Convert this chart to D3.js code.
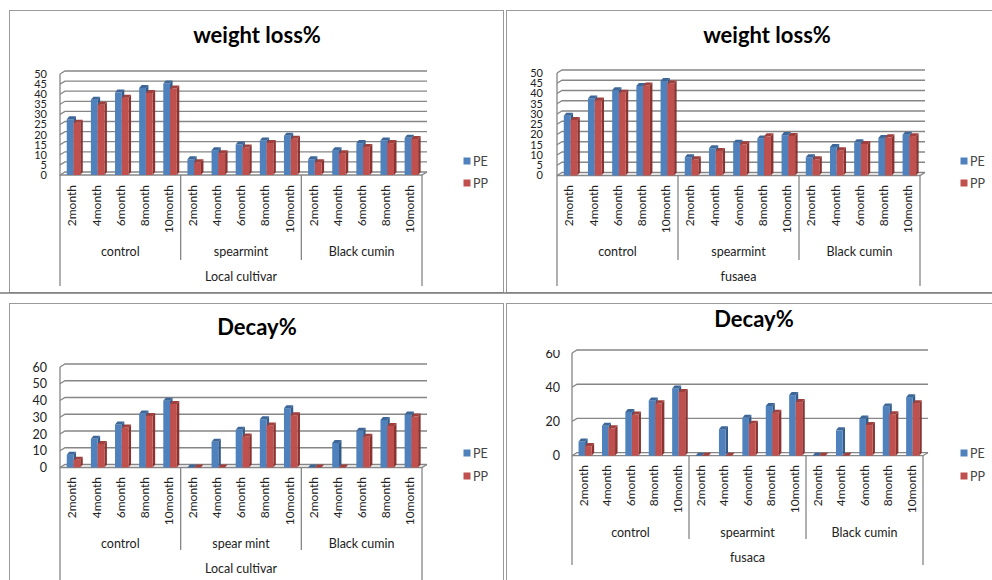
<!DOCTYPE html>
<html>
<head>
<meta charset="utf-8">
<script src="https://cdn.jsdelivr.net/npm/d3@7"></script>
<style>
  body { margin: 0; background: #fff; }
  svg { display: block; }
  text { font-family: Lato, "Open Sans", "DejaVu Sans", sans-serif; }
</style>
</head>
<body>
<svg id="chart" width="992" height="580"></svg>
<script>
// Storage months and treatments (category axis, two levels + cultivar level)
const months = ["2month", "4month", "6month", "8month", "10month"];
const treatments = ["control", "spearmint", "Black cumin"];
const treatmentsDecayLocal = ["control", "spear mint", "Black cumin"];
const cultivarLocal = "Local cultivar";
const cultivarFusaea = "fusaea";
const cultivarFusaca = "fusaca";
const seriesNames = ["PE", "PP"];

// Weight loss % — Local cultivar
const wlLocalPE = [27.6, 37.3, 40.8, 43.1, 45.3, 7.8, 12.3, 15.1, 17.1, 19.4, 7.8, 12.3, 15.8, 17.1, 18.4];
const wlLocalPP = [25.9, 34.8, 38.3, 40.6, 42.8, 6.3, 10.8, 13.6, 15.9, 17.9, 6.3, 10.8, 13.8, 15.8, 17.8];
// Weight loss % — fusaea
const wlFusaeaPE = [29.2, 37.6, 41.6, 43.7, 46.1, 8.9, 13.3, 16.0, 18.1, 19.7, 8.9, 13.9, 16.2, 18.3, 19.9];
const wlFusaeaPP = [27.1, 36.6, 40.4, 43.9, 44.9, 7.9, 11.9, 15.2, 19.1, 19.3, 7.9, 12.3, 15.4, 18.6, 19.2];
// Decay % — Local cultivar
const decayLocalPE = [7.6, 17.1, 25.7, 32.2, 39.9, 0, 15.3, 22.5, 28.8, 35.4, 0, 14.7, 21.9, 28.4, 31.6];
const decayLocalPP = [4.6, 14.1, 23.9, 30.8, 37.9, 0, 0, 18.5, 25.1, 31.2, 0, 0, 18.3, 24.8, 30.4];
// Decay % — fusaca
const decayFusacaPE = [8.3, 17.5, 25.6, 32.3, 39.3, 0, 15.5, 22.2, 29.1, 35.4, 0, 14.8, 21.8, 28.8, 34.2];
const decayFusacaPP = [5.6, 16.0, 24.0, 30.6, 37.2, 0, 0, 18.7, 25.1, 31.3, 0, 0, 17.9, 24.2, 30.7];

// Axis tick settings
const wlTicks = { max: 50, step: 5 };
const decayLocalTicks = { max: 60, step: 10 };
const decayFusacaTicks = { max: 60, step: 20 };

const colors = {
  PE: { front: "#4F81BD", top: "#3C6798", side: "#345B88" },
  PP: { front: "#C0504D", top: "#A03F3C", side: "#8A3432" }
};

const svg = d3.select("#chart");

// Panel frames
const frames = svg.append("g").attr("fill", "none");
frames.append("rect").attr("x", 9.5).attr("y", 10.5).attr("width", 494).attr("height", 282).attr("stroke", "#9a9a9a");
frames.append("rect").attr("x", 506.5).attr("y", 10.5).attr("width", 500).attr("height", 282).attr("stroke", "#9a9a9a");
frames.append("rect").attr("x", 9.5).attr("y", 303.5).attr("width", 494).attr("height", 290).attr("stroke", "#9a9a9a");
frames.append("rect").attr("x", 506.5).attr("y", 303.5).attr("width", 500).attr("height", 290).attr("stroke", "#9a9a9a");
frames.append("line").attr("x1", 0).attr("x2", 992).attr("y1", 293).attr("y2", 293).attr("stroke", "#7a7a7a").attr("stroke-width", 1.5);

function drawPanel(o) {
  const g = svg.append("g");
  const keys = [];
  o.groups.forEach(gr => months.forEach(m => keys.push(gr + "|" + m)));

  const x = d3.scaleBand().domain(keys).range([o.x0, o.x1]);
  const bw = x.bandwidth();
  const xs = d3.scaleBand().domain(seriesNames).range([bw * 0.28, bw * 0.84]);
  const y = d3.scaleLinear().domain([0, o.ticks.max]).range([o.y0, o.yTop]);
  const fdx = 5, fdy = 3;      // floor / wall depth
  const bdx = 2.5, bdy = 3;    // column depth

  // Title
  g.append("text").attr("x", o.titleX).attr("y", o.titleY)
    .attr("text-anchor", "middle").attr("font-weight", 700).attr("font-size", 22)
    .attr("fill", "#000").text(o.title);

  // Wall gridlines and side wall
  const ticks = d3.range(0, o.ticks.max + o.ticks.step / 2, o.ticks.step);
  g.append("g").selectAll("path").data(ticks).join("path")
    .attr("d", t => `M${o.x0},${y(t)}L${o.x0 + fdx},${y(t) - fdy}L${o.x1 + fdx},${y(t) - fdy}`)
    .attr("fill", "none").attr("stroke", "#868686").attr("stroke-width", 1.3);
  g.append("path")
    .attr("d", `M${o.x0},${y(o.ticks.max)}L${o.x0},${o.y0}L${o.x1},${o.y0}L${o.x1 + fdx},${o.y0 - fdy}`)
    .attr("fill", "none").attr("stroke", "#868686").attr("stroke-width", 1.3);

  // Y tick labels
  const lab = g.append("g");
  if (o.clipTop != null) {
    const id = "clip" + Math.round(o.x0);
    svg.append("clipPath").attr("id", id).append("rect")
      .attr("x", o.labelRight - 40).attr("y", o.clipTop).attr("width", 50).attr("height", 300);
    lab.attr("clip-path", `url(#${id})`);
  }
  lab.selectAll("text").data(ticks).join("text")
    .attr("x", o.labelRight).attr("y", t => y(t))
    .attr("dy", "0.36em").attr("text-anchor", "end")
    .attr("font-size", o.tickFont).attr("fill", "#222").text(t => t);

  // Columns: PE first so the PP column covers its side face
  const bars = g.append("g");
  keys.forEach((k, i) => {
    seriesNames.forEach(s => {
      const v = (s === "PE" ? o.pe : o.pp)[i];
      const xf = x(k) + xs(s), w = xs.bandwidth();
      const yt = y(v), yb = y(0);
      const c = colors[s];
      bars.append("path")
        .attr("d", `M${xf + w},${yt}L${xf + w + bdx},${yt - bdy}L${xf + w + bdx},${yb - bdy}L${xf + w},${yb}Z`)
        .attr("fill", c.side);
      bars.append("rect").attr("x", xf).attr("y", yt).attr("width", w).attr("height", yb - yt)
        .attr("fill", c.front);
      bars.append("path")
        .attr("d", `M${xf},${yt}L${xf + w},${yt}L${xf + w + bdx},${yt - bdy}L${xf + bdx},${yt - bdy}Z`)
        .attr("fill", c.top);
    });
  });

  // Month labels (rotated)
  g.append("g").selectAll("text").data(keys).join("text")
    .attr("transform", k => `translate(${x(k) + bw / 2},${o.monthTop}) rotate(-90)`)
    .attr("dy", "0.36em").attr("text-anchor", "end")
    .attr("font-size", 12).attr("fill", "#222").text(k => k.split("|")[1]);

  // Group separators and labels
  const gw = bw * months.length;
  const sep = g.append("g").attr("stroke", "#868686").attr("stroke-width", 1.3);
  d3.range(o.groups.length + 1).forEach(j => {
    const sx = o.x0 + j * gw;
    const outer = j === 0 || j === o.groups.length;
    sep.append("line").attr("x1", sx).attr("x2", sx).attr("y1", o.y0)
      .attr("y2", outer ? o.outerBottom : o.innerBottom);
  });
  g.append("g").selectAll("text").data(o.groups).join("text")
    .attr("x", (d, j) => o.x0 + (j + 0.5) * gw).attr("y", o.groupY)
    .attr("dy", "0.36em").attr("text-anchor", "middle")
    .attr("font-size", 12.5).attr("fill", "#222").text(d => d);
  g.append("text").attr("x", (o.x0 + o.x1) / 2).attr("y", o.cultY)
    .attr("dy", "0.36em").attr("text-anchor", "middle")
    .attr("font-size", 12.5).attr("fill", "#222").text(o.cultivar);

  // Legend
  const lg = g.append("g");
  seriesNames.forEach((s, j) => {
    const ly = j === 0 ? o.legY1 : o.legY2;
    lg.append("rect").attr("x", o.legX - 3.5).attr("y", ly - 3.5).attr("width", 7).attr("height", 7)
      .attr("fill", colors[s].front);
    lg.append("text").attr("x", o.legX + 6).attr("y", ly).attr("dy", "0.36em")
      .attr("font-size", 12.5).attr("fill", "#444").text(s);
  });
}

drawPanel({
  title: "weight loss%", titleX: 257, titleY: 43,
  x0: 60, x1: 422, y0: 175, yTop: 74, ticks: wlTicks, labelRight: 47, tickFont: 11,
  groups: treatments, cultivar: cultivarLocal, pe: wlLocalPE, pp: wlLocalPP,
  monthTop: 185, groupY: 251, cultY: 276, innerBottom: 260, outerBottom: 286,
  legX: 467, legY1: 161, legY2: 183
});
drawPanel({
  title: "weight loss%", titleX: 767, titleY: 43,
  x0: 557, x1: 920, y0: 175.5, yTop: 73, ticks: wlTicks, labelRight: 543, tickFont: 11,
  groups: treatments, cultivar: cultivarFusaea, pe: wlFusaeaPE, pp: wlFusaeaPP,
  monthTop: 185, groupY: 251, cultY: 276, innerBottom: 260, outerBottom: 286,
  legX: 964, legY1: 161, legY2: 183
});
drawPanel({
  title: "Decay%", titleX: 257, titleY: 335,
  x0: 60, x1: 422, y0: 467.5, yTop: 367, ticks: decayLocalTicks, labelRight: 47, tickFont: 12.5,
  groups: treatmentsDecayLocal, cultivar: cultivarLocal, pe: decayLocalPE, pp: decayLocalPP,
  monthTop: 477, groupY: 543, cultY: 568, innerBottom: 550, outerBottom: 580,
  legX: 467, legY1: 453, legY2: 476
});
drawPanel({
  title: "Decay%", titleX: 754, titleY: 327,
  x0: 572, x1: 923, y0: 455.7, yTop: 353, ticks: decayFusacaTicks, labelRight: 560, tickFont: 12.5,
  groups: treatments, cultivar: cultivarFusaca, pe: decayFusacaPE, pp: decayFusacaPP,
  monthTop: 465, groupY: 532, cultY: 557, innerBottom: 539, outerBottom: 565,
  legX: 964, legY1: 453, legY2: 476, clipTop: 350
});
</script>
</body>
</html>
